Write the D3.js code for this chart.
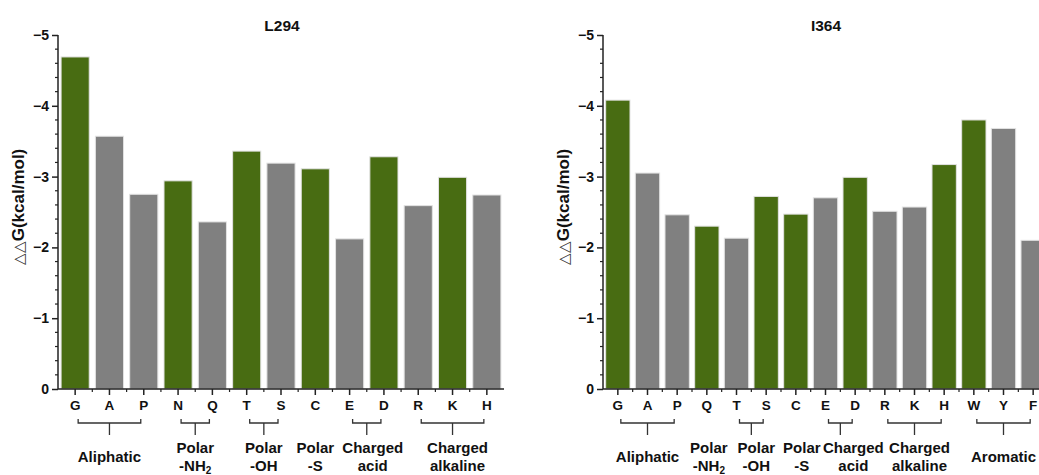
<!DOCTYPE html>
<html>
<head>
<meta charset="utf-8">
<script src="https://cdn.jsdelivr.net/npm/d3@7/dist/d3.min.js"></script>
<style>
  body { margin: 0; background: #fff; }
  svg { display: block; font-family: "Liberation Sans", Arial, sans-serif; font-weight: bold; }
</style>
</head>
<body>
<div id="chart"></div>
<script>
// data
var l294Residues = ["G", "A", "P", "N", "Q", "T", "S", "C", "E", "D", "R", "K", "H"];
var l294Values = [-4.69, -3.57, -2.75, -2.94, -2.36, -3.36, -3.19, -3.11, -2.12, -3.28, -2.59, -2.99, -2.74];
var l294Green = [1, 0, 0, 1, 0, 1, 0, 1, 0, 1, 0, 1, 0];
var l294Groups = [
  { lines: ["Aliphatic"], from: "G", to: "P" },
  { lines: ["Polar", "-NH2"], from: "N", to: "Q" },
  { lines: ["Polar", "-OH"], from: "T", to: "S" },
  { lines: ["Polar", "-S"], from: "C", to: "C" },
  { lines: ["Charged", "acid"], from: "E", to: "D" },
  { lines: ["Charged", "alkaline"], from: "R", to: "H" }
];

var i364Residues = ["G", "A", "P", "Q", "T", "S", "C", "E", "D", "R", "K", "H", "W", "Y", "F"];
var i364Values = [-4.08, -3.05, -2.46, -2.30, -2.13, -2.72, -2.47, -2.70, -2.99, -2.51, -2.57, -3.17, -3.80, -3.68, -2.10];
var i364Green = [1, 0, 0, 1, 0, 1, 1, 0, 1, 0, 0, 1, 1, 0, 0];
var i364Groups = [
  { lines: ["Aliphatic"], from: "G", to: "P" },
  { lines: ["Polar", "-NH2"], from: "Q", to: "Q" },
  { lines: ["Polar", "-OH"], from: "T", to: "S" },
  { lines: ["Polar", "-S"], from: "C", to: "C" },
  { lines: ["Charged", "acid"], from: "E", to: "D" },
  { lines: ["Charged", "alkaline"], from: "R", to: "H" },
  { lines: ["Aromatic"], from: "W", to: "F" }
];

var yTicks = [0, -1, -2, -3, -4, -5];

var W = 1039, H = 475;
var GREEN = "#486c12", GREY = "#808080";

var svg = d3.select("#chart").append("svg")
  .attr("width", W)
  .attr("height", H);

function panel(opts) {
  var x = d3.scaleBand()
    .domain(opts.residues)
    .range([opts.x0, opts.x1])
    .paddingInner(0.18)
    .paddingOuter(0.09);
  var y = d3.scaleLinear()
    .domain([0, -5])
    .range([389, 35]);

  var g = svg.append("g");

  // bars
  g.selectAll("rect.bar")
    .data(opts.values)
    .enter()
    .append("rect")
    .attr("class", "bar")
    .attr("x", function (d, i) { return x(opts.residues[i]); })
    .attr("y", function (d) { return y(d); })
    .attr("width", x.bandwidth())
    .attr("height", function (d) { return y(0) - y(d); })
    .attr("fill", function (d, i) { return opts.green[i] ? GREEN : GREY; })
    .attr("stroke", "#e2e2e2")
    .attr("stroke-width", 1);

  // y axis
  var yAxis = g.append("g")
    .attr("transform", "translate(" + opts.x0 + ",0)")
    .call(d3.axisLeft(y).tickValues(yTicks).tickSize(6).tickPadding(3).tickFormat(d3.format("d")));
  yAxis.select(".domain").attr("stroke", "#222").attr("stroke-width", 1.5).attr("d", "M0," + y(0) + "V" + y(-5));
  yAxis.selectAll(".tick line").attr("stroke", "#222").attr("stroke-width", 1.5);
  yAxis.selectAll(".tick text").attr("font-size", 14).attr("font-weight", "bold")
    .attr("font-family", "Liberation Sans, Arial, sans-serif").attr("fill", "#111");
  // minor y ticks
  var minor = d3.range(0, -5.001, -0.2).filter(function (v) { return Math.abs(v - Math.round(v)) > 0.01; });
  g.selectAll("line.ymin")
    .data(minor)
    .enter()
    .append("line")
    .attr("x1", opts.x0 - 3).attr("x2", opts.x0)
    .attr("y1", function (d) { return y(d); })
    .attr("y2", function (d) { return y(d); })
    .attr("stroke", "#222").attr("stroke-width", 1.2);

  // x axis
  var xAxis = g.append("g")
    .attr("transform", "translate(0," + y(0) + ")")
    .call(d3.axisBottom(x).tickSize(6).tickPadding(5));
  xAxis.select(".domain").attr("stroke", "#222").attr("stroke-width", 1.5)
    .attr("d", "M" + opts.x0 + ",0H" + opts.x1);
  xAxis.selectAll(".tick line").attr("stroke", "#222").attr("stroke-width", 1.5);
  xAxis.selectAll(".tick text").attr("font-size", 13.5).attr("font-weight", "bold")
    .attr("font-family", "Liberation Sans, Arial, sans-serif").attr("fill", "#111");
  // minor x ticks at bar boundaries
  var bounds = opts.residues.slice(1).map(function (r) { return x(r) - x.step() * x.paddingInner() / 2; });
  g.selectAll("line.xmin")
    .data(bounds)
    .enter()
    .append("line")
    .attr("x1", function (d) { return d; })
    .attr("x2", function (d) { return d; })
    .attr("y1", y(0)).attr("y2", y(0) + 3)
    .attr("stroke", "#222").attr("stroke-width", 1.2);

  // group brackets and labels
  var bw = x.bandwidth() / 2;
  opts.groups.forEach(function (grp) {
    var a = x(grp.from) + bw, b = x(grp.to) + bw, mid = (a + b) / 2;
    if (grp.from !== grp.to) {
      g.append("path")
        .attr("d", "M" + (a + 3) + ",419V423H" + (b - 3) + "V419M" + mid + ",423V435")
        .attr("fill", "none")
        .attr("stroke", "#333")
        .attr("stroke-width", 1.3);
    }
    // labels are nudged a little to the right where they crowd
    var lx = mid + (opts.nudge[grp.lines.join(" ")] || 0);
    var t = g.append("text")
      .attr("x", lx)
      .attr("text-anchor", "middle")
      .attr("font-size", 15)
      .attr("fill", "#111");
    if (grp.lines.length === 1) {
      t.attr("y", 462).text(grp.lines[0]);
    } else {
      t.append("tspan").attr("x", lx).attr("y", 453).text(grp.lines[0]);
      var second = t.append("tspan").attr("x", lx).attr("y", 471);
      if (grp.lines[1] === "-NH2") {
        second.text("-NH");
        t.append("tspan").attr("font-size", 10).attr("dy", 3).text("2");
      } else {
        second.text(grp.lines[1]);
      }
    }
  });

  // title
  g.append("text")
    .attr("x", opts.titleX)
    .attr("y", 31)
    .attr("text-anchor", "middle")
    .attr("font-size", 15.5)
    .attr("fill", "#111")
    .text(opts.title);

  // y axis title
  var yl = g.append("text")
    .attr("transform", "translate(" + (opts.x0 - 34) + "," + 207 + ") rotate(-90)")
    .attr("text-anchor", "middle")
    .attr("font-size", 17)
    .attr("fill", "#111");
  yl.append("tspan").attr("font-weight", "normal").attr("font-size", 15).attr("fill", "#333").text("\u25B3\u25B3");
  yl.append("tspan").text("G(kcal/mol)");
}

panel({
  title: "L294", titleX: 282,
  residues: l294Residues, values: l294Values, green: l294Green, groups: l294Groups,
  x0: 58, x1: 504,
  nudge: { "Charged acid": 6, "Charged alkaline": 5 }
});

panel({
  title: "I364", titleX: 826,
  residues: i364Residues, values: i364Values, green: i364Green, groups: i364Groups,
  x0: 603, x1: 1048,
  nudge: { "Polar -NH2": 2, "Polar -OH": 5, "Polar -S": 6, "Charged acid": 13, "Charged alkaline": 5 }
});
</script>
</body>
</html>
